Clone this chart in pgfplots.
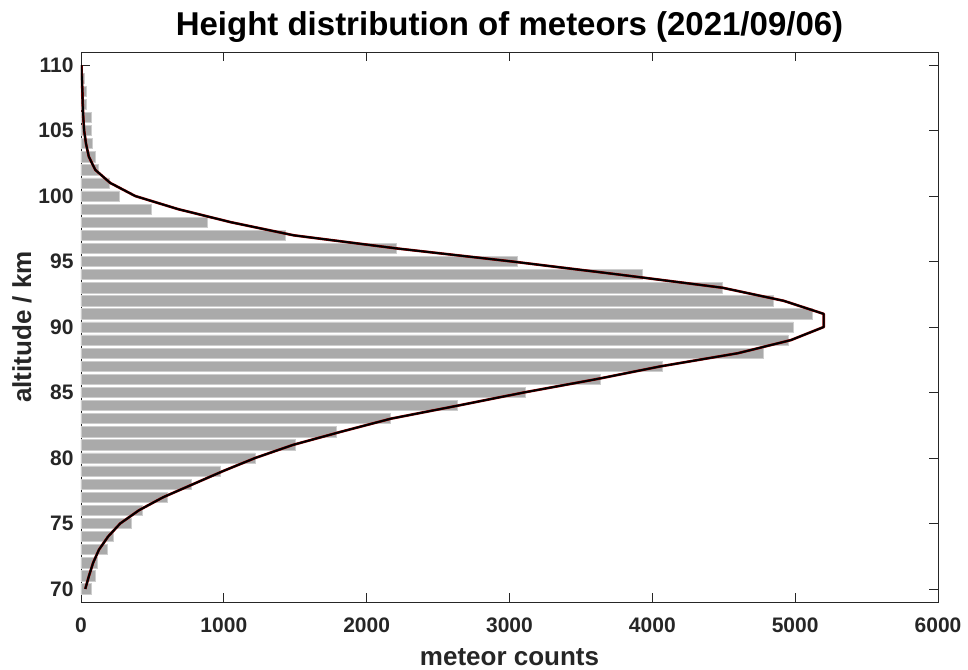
\documentclass[border=0pt]{standalone}
\usepackage{fontspec}
\setmainfont{Liberation Sans}
\usepackage{pgfplots}
\usepackage{pgfplotstable}
\pgfplotsset{compat=1.18}
\definecolor{bargray}{RGB}{170,170,170}
\definecolor{baredge}{RGB}{205,205,205}
\definecolor{axgray}{RGB}{38,38,38}
\definecolor{fitred}{RGB}{150,0,0}
\pgfplotstableread{
km count
70 72
71 103
72 112
73 184
74 228
75 349
76 428
77 603
78 770
79 977
80 1217
81 1498
82 1785
83 2165
84 2635
85 3110
86 3635
87 4068
88 4775
89 4950
90 4987
91 5122
92 4848
93 4488
94 3929
95 3054
96 2207
97 1432
98 885
99 495
100 268
101 198
102 122
103 100
104 78
105 73
106 70
107 35
108 40
109 22
}\bars
\pgfplotstableread{
km fit
70 30
71 56
72 85
73 126
74 190
75 275
76 405
77 575
78 785
79 995
80 1220
81 1485
82 1820
83 2170
84 2640
85 3100
86 3600
87 4060
88 4600
89 4970
90 5200
91 5200
92 4920
93 4490
94 3770
95 3020
96 2210
97 1490
98 1050
99 680
100 380
101 205
102 100
103 55
104 35
105 22
106 16
107 12
108 10
109 6
110 3
}\fitcurve
\begin{document}
\begin{tikzpicture}
\begin{axis}[
  scale only axis, width=857pt, height=550pt,
  xmin=0, xmax=6000, ymin=69, ymax=111,
  xtick={0,1000,...,6000}, ytick={70,75,...,110},
  scaled x ticks=false,
  /pgf/number format/1000 sep={},
  /pgf/number format/assume math mode=true,
  tick align=inside, xtick pos=both, ytick pos=both,
  major tick length=9pt,
  axis line style={axgray, line width=0.8pt},
  every tick/.style={axgray, line width=0.8pt},
  ticklabel style={font=\fontsize{21}{21}\selectfont\bfseries, text=axgray},
  xticklabel style={yshift=-12pt},
  yticklabel style={xshift=-4pt},
  title={Height distribution of meteors (2021/09/06)},
  title style={font=\fontsize{33}{33}\selectfont\bfseries, text=black, at={(axis description cs:0.5,1.034)}, anchor=center},
  xlabel={meteor counts},
  xlabel style={font=\fontsize{26}{26}\selectfont\bfseries, text=axgray, at={(axis description cs:0.5,-0.1)}, anchor=center},
  ylabel={altitude / km},
  ylabel style={font=\fontsize{26}{26}\selectfont\bfseries, text=axgray, at={(axis description cs:-0.069,0.5)}, anchor=center},
]
\addplot[xbar, bar width=0.78, fill=bargray, draw=baredge, line width=0.6pt] table[x=count, y=km] {\bars};
\addplot[fitred, line width=2.6pt, no marks, line join=round] table[x=fit, y=km] {\fitcurve};
\addplot[black, line width=1.9pt, no marks, line join=round] table[x=fit, y=km] {\fitcurve};
\end{axis}
\path ([shift={(-81pt,-67pt)}]current axis.south west) rectangle ++(968pt,669pt);
\end{tikzpicture}
\end{document}
